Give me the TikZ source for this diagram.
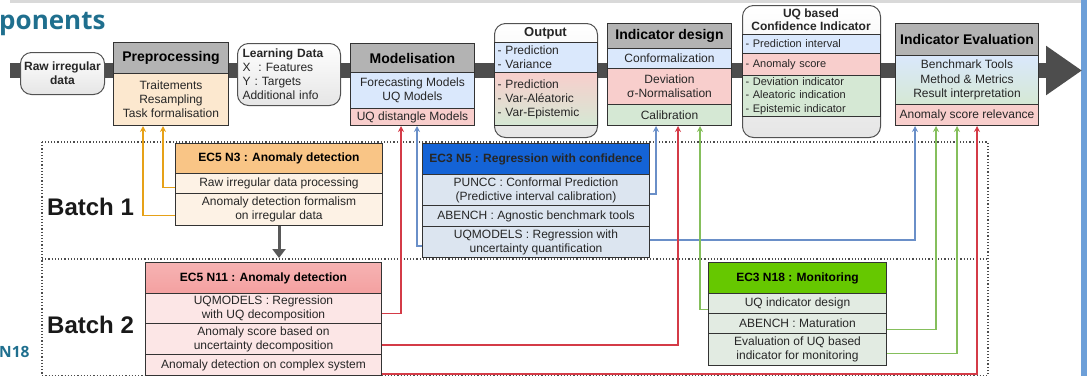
\documentclass[tikz,border=0pt]{standalone}
\usepackage{fontspec}
\setmainfont{Liberation Sans}
\newfontfamily\titlefont{Open Sans}
\usetikzlibrary{arrows.meta}
\definecolor{lc}{HTML}{333333}
\definecolor{txt}{HTML}{262626}
\definecolor{hgray}{HTML}{B3B3B3}
\definecolor{cblue}{HTML}{DAE8FC}
\definecolor{cpink}{HTML}{F8CECC}
\definecolor{cgreen}{HTML}{D5E8D4}
\definecolor{corange}{HTML}{FCE8CF}
\definecolor{teal1}{HTML}{1F6F8E}
\definecolor{arrO}{HTML}{E6A118}
\definecolor{arrR}{HTML}{D43B47}
\definecolor{arrB}{HTML}{6A8FC8}
\definecolor{arrG}{HTML}{85BF5C}
\definecolor{n3h}{HTML}{F9C586}
\definecolor{n3r}{HTML}{FDF2E5}
\definecolor{n5h}{HTML}{1463D6}
\definecolor{n5r}{HTML}{DCE5F0}
\definecolor{n11h}{HTML}{F4A0A0}
\definecolor{n11r}{HTML}{FCE6E6}
\definecolor{n18h}{HTML}{66C800}
\definecolor{n18r}{HTML}{E2EBE2}
\definecolor{band}{HTML}{4D4D4D}
\definecolor{edge}{HTML}{6D9FD8}
\tikzset{
  cell/.style={draw=lc, line width=1pt, anchor=north west, inner sep=1pt, align=center,
    font=\fontsize{12}{14}\selectfont, text=txt},
  lcell/.style={cell, align=left, inner xsep=3pt},
  hdr/.style={cell, fill=hgray, font=\fontsize{14}{16}\selectfont\bfseries, text=black},
  ech/.style={cell, font=\fontsize{12}{14}\selectfont\bfseries, text=black},
  rbox/.style={draw=lc!85, line width=1pt, rounded corners=11pt, anchor=north west,
    top color=white, bottom color=black!10, inner sep=0pt},
  conn/.style={line width=1.4pt, -{Stealth[length=6pt,width=6pt]}},
  dotline/.style={draw=black!70, line width=1.2pt, dash pattern=on 1.2pt off 2pt},
  flow/.style={draw=band, line width=15pt, -{Triangle[length=36pt,width=47pt]}},
}
\begin{document}
\begin{tikzpicture}[x=1pt,y=-1pt]
\useasboundingbox (0,0) rectangle (1087,376);
% page decoration
\draw[black!15, line width=3pt] (10,1.5) -- (1087,1.5);
\fill[edge] (1081,0) rectangle (1087,376);
\node[anchor=base west, inner sep=0pt, font=\titlefont\fontsize{26}{28}\selectfont\bfseries, text=teal1] (ttl) at (-1,29) {ponents};
\node[anchor=base west, inner sep=0pt, font=\titlefont\fontsize{15.5}{17}\selectfont\bfseries, text=teal1] (n18lbl) at (-1,357) {N18};
% main flow arrow
\coordinate (flowS) at (10,70.5);
\coordinate (flowE) at (1082,70.5);
\draw[flow] (flowS) -- (flowE);
% batch regions
\coordinate (bTL) at (42,142);
\coordinate (bBR) at (988,375.5);
\draw[dotline] (bTL) rectangle (bBR);
\coordinate (bML) at (42,259);
\coordinate (bMR) at (988,259);
\draw[dotline] (bML) -- (bMR);
\node[anchor=west, inner sep=0pt, font=\fontsize{24}{26}\selectfont\bfseries, text=black!90] (b1) at (47,207) {Batch 1};
\node[anchor=west, inner sep=0pt, font=\fontsize{24}{26}\selectfont\bfseries, text=black!90] (b2) at (47,325) {Batch 2};
% top row
\node[rbox, minimum width=84pt, minimum height=42pt, align=center,
  font=\fontsize{12}{14}\selectfont\bfseries, text=txt] (raw) at (20,52) {Raw irregular\\data};
\node[hdr, minimum width=115pt, minimum height=31pt] (preH) at (113,42) {Preprocessing};
\node[cell, fill=corange, minimum width=115pt, minimum height=52pt] (preB) at (113,73) {Traitements\\Resampling\\Task formalisation};
\node[rbox, minimum width=103pt, minimum height=62pt, align=left, text width=93pt, inner xsep=5pt,
  font=\fontsize{12}{14}\selectfont, text=txt] (learn) at (237,43)
  {\textbf{Learning Data}\\X\ \ : Features\\Y : Targets\\Additional info};
\node[hdr, minimum width=124pt, minimum height=29pt] (modH) at (350,43) {Modelisation};
\node[cell, fill=cblue, minimum width=124pt, minimum height=36pt] (modB) at (350,72) {Forecasting Models\\UQ Models};
\node[cell, fill=cpink, minimum width=124pt, minimum height=17pt] (modC) at (350,108) {UQ distangle Models};
\node[rbox, minimum width=103pt, minimum height=114pt] (out) at (494,23) {};
\node[font=\fontsize{13}{15}\selectfont\bfseries, text=txt, inner sep=0pt] (outT) at (545.5,33) {Output};
\node[lcell, fill=cblue, minimum width=103pt, minimum height=30pt, text width=97pt] (outA) at (494,42) {- Prediction\\- Variance};
\node[lcell, top color=cpink, bottom color=cgreen, minimum width=103pt, minimum height=53pt, text width=97pt] (outB) at (494,72) {- Prediction\\- Var-Aléatoric\\- Var-Epistemic};
\node[hdr, minimum width=124pt, minimum height=25pt] (indH) at (607,23) {Indicator design};
\node[cell, fill=cblue, minimum width=124pt, minimum height=20pt] (indA) at (607,48) {Conformalization};
\node[cell, fill=cpink, minimum width=124pt, minimum height=36pt] (indB) at (607,68) {Deviation\\σ-Normalisation};
\node[cell, fill=cgreen, minimum width=124pt, minimum height=21pt] (indC) at (607,104) {Calibration};
\node[rbox, minimum width=138pt, minimum height=132pt] (uq) at (742,5) {};
\node[align=center, inner sep=0pt, font=\fontsize{12}{13}\selectfont\bfseries, text=txt] (uqT) at (811,19.5) {UQ based\\Confidence Indicator};
\node[lcell, fill=cblue, minimum width=138pt, minimum height=19pt, text width=132pt, font=\fontsize{11}{13.5}\selectfont] (uqA) at (742,34) {- Prediction interval};
\node[lcell, fill=cpink, minimum width=138pt, minimum height=22pt, text width=132pt, font=\fontsize{11}{13.5}\selectfont] (uqB) at (742,53) {- Anomaly score};
\node[lcell, fill=cgreen, minimum width=138pt, minimum height=41pt, text width=132pt, font=\fontsize{11}{13.5}\selectfont] (uqC) at (742,75) {- Deviation indicator\\- Aleatoric indication\\- Epistemic indicator};
\node[hdr, minimum width=143pt, minimum height=32pt] (evH) at (895,23) {Indicator Evaluation};
\node[cell, top color=cblue, bottom color=cgreen, minimum width=143pt, minimum height=49pt, font=\fontsize{12}{14.5}\selectfont] (evB) at (895,55) {Benchmark Tools\\Method \& Metrics\\Result interpretation};
\node[cell, fill=cpink, minimum width=143pt, minimum height=21pt] (evC) at (895,104) {Anomaly score relevance};
% EC5 N3
\node[ech, fill=n3h, minimum width=207pt, minimum height=30pt] (n3H) at (175,143) {EC5 N3 : Anomaly detection};
\node[cell, fill=n3r, minimum width=207pt, minimum height=20pt] (n3a) at (175,173) {Raw irregular data processing};
\node[cell, fill=n3r, minimum width=207pt, minimum height=32pt] (n3b) at (175,193) {Anomaly detection formalism\\on irregular data};
% EC3 N5
\node[ech, fill=n5h, minimum width=227pt, minimum height=31pt, text=black!85] (n5H) at (422,143) {EC3 N5 : Regression with confidence};
\node[cell, fill=n5r, minimum width=227pt, minimum height=31pt] (n5a) at (422,174) {PUNCC : Conformal Prediction\\(Predictive interval calibration)};
\node[cell, fill=n5r, minimum width=227pt, minimum height=21pt] (n5b) at (422,205) {ABENCH : Agnostic benchmark tools};
\node[cell, fill=n5r, minimum width=227pt, minimum height=31pt] (n5c) at (422,226) {UQMODELS : Regression with\\uncertainty quantification};
% EC5 N11
\node[ech, top color=n11h!80, bottom color=n11h, minimum width=236pt, minimum height=31pt] (n11H) at (145,262) {EC5 N11 : Anomaly detection};
\node[cell, fill=n11r, minimum width=236pt, minimum height=30pt] (n11a) at (145,293) {UQMODELS : Regression\\with UQ decomposition};
\node[cell, fill=n11r, minimum width=236pt, minimum height=31pt] (n11b) at (145,323) {Anomaly score based on\\uncertainty decomposition};
\node[cell, fill=n11r, minimum width=236pt, minimum height=21pt] (n11c) at (145,354) {Anomaly detection on complex system};
% EC3 N18
\node[ech, fill=n18h, minimum width=178pt, minimum height=31pt] (n18H) at (708,262) {EC3 N18 : Monitoring};
\node[cell, fill=n18r, minimum width=178pt, minimum height=20pt] (n18a) at (708,293) {UQ indicator design};
\node[cell, fill=n18r, minimum width=178pt, minimum height=20pt] (n18b) at (708,313) {ABENCH : Maturation};
\node[cell, fill=n18r, minimum width=178pt, minimum height=32pt] (n18c) at (708,333) {Evaluation of UQ based\\indicator for monitoring};
% batch 1 to batch 2
\draw[draw=black!65, line width=3pt, -{Triangle[length=9pt,width=13pt]}, shorten >=4pt] (n3b.south) -- (n3b.south |- n11H.north);
% connectors
\draw[conn, arrO] ([yshift=-4pt]n3a.west) -| ([xshift=50pt]preB.south west);
\draw[conn, arrO] ([yshift=-6pt]n3b.west) -| ([xshift=30pt]preB.south west);
\draw[conn, arrB] ([yshift=-4pt]n5c.west) -| ([xshift=67pt]modC.south west);
\draw[conn, arrB] ([yshift=-4pt]n5a.east) -| ([xshift=49pt]indC.south west);
\draw[conn, arrB] ([yshift=2pt]n5c.east) -| ([xshift=20pt]evC.south west);
\draw[conn, arrR] ([yshift=-5pt]n11a.east) -| ([xshift=51pt]modC.south west);
\draw[conn, arrR] ([yshift=-6pt]n11b.east) -| ([xshift=71pt]indC.south west);
\draw[conn, arrR] ([yshift=2pt]n11c.south east) -| ([xshift=82pt]evC.south west);
\draw[conn, arrG] ([yshift=-6pt]n18a.west) -| ([xshift=93pt]indC.south west);
\draw[conn, arrG] ([yshift=-6pt]n18b.east) -| ([xshift=41pt]evC.south west);
\draw[conn, arrG] ([yshift=-4pt]n18c.east) -| ([xshift=62pt]evC.south west);
\end{tikzpicture}
\end{document}
